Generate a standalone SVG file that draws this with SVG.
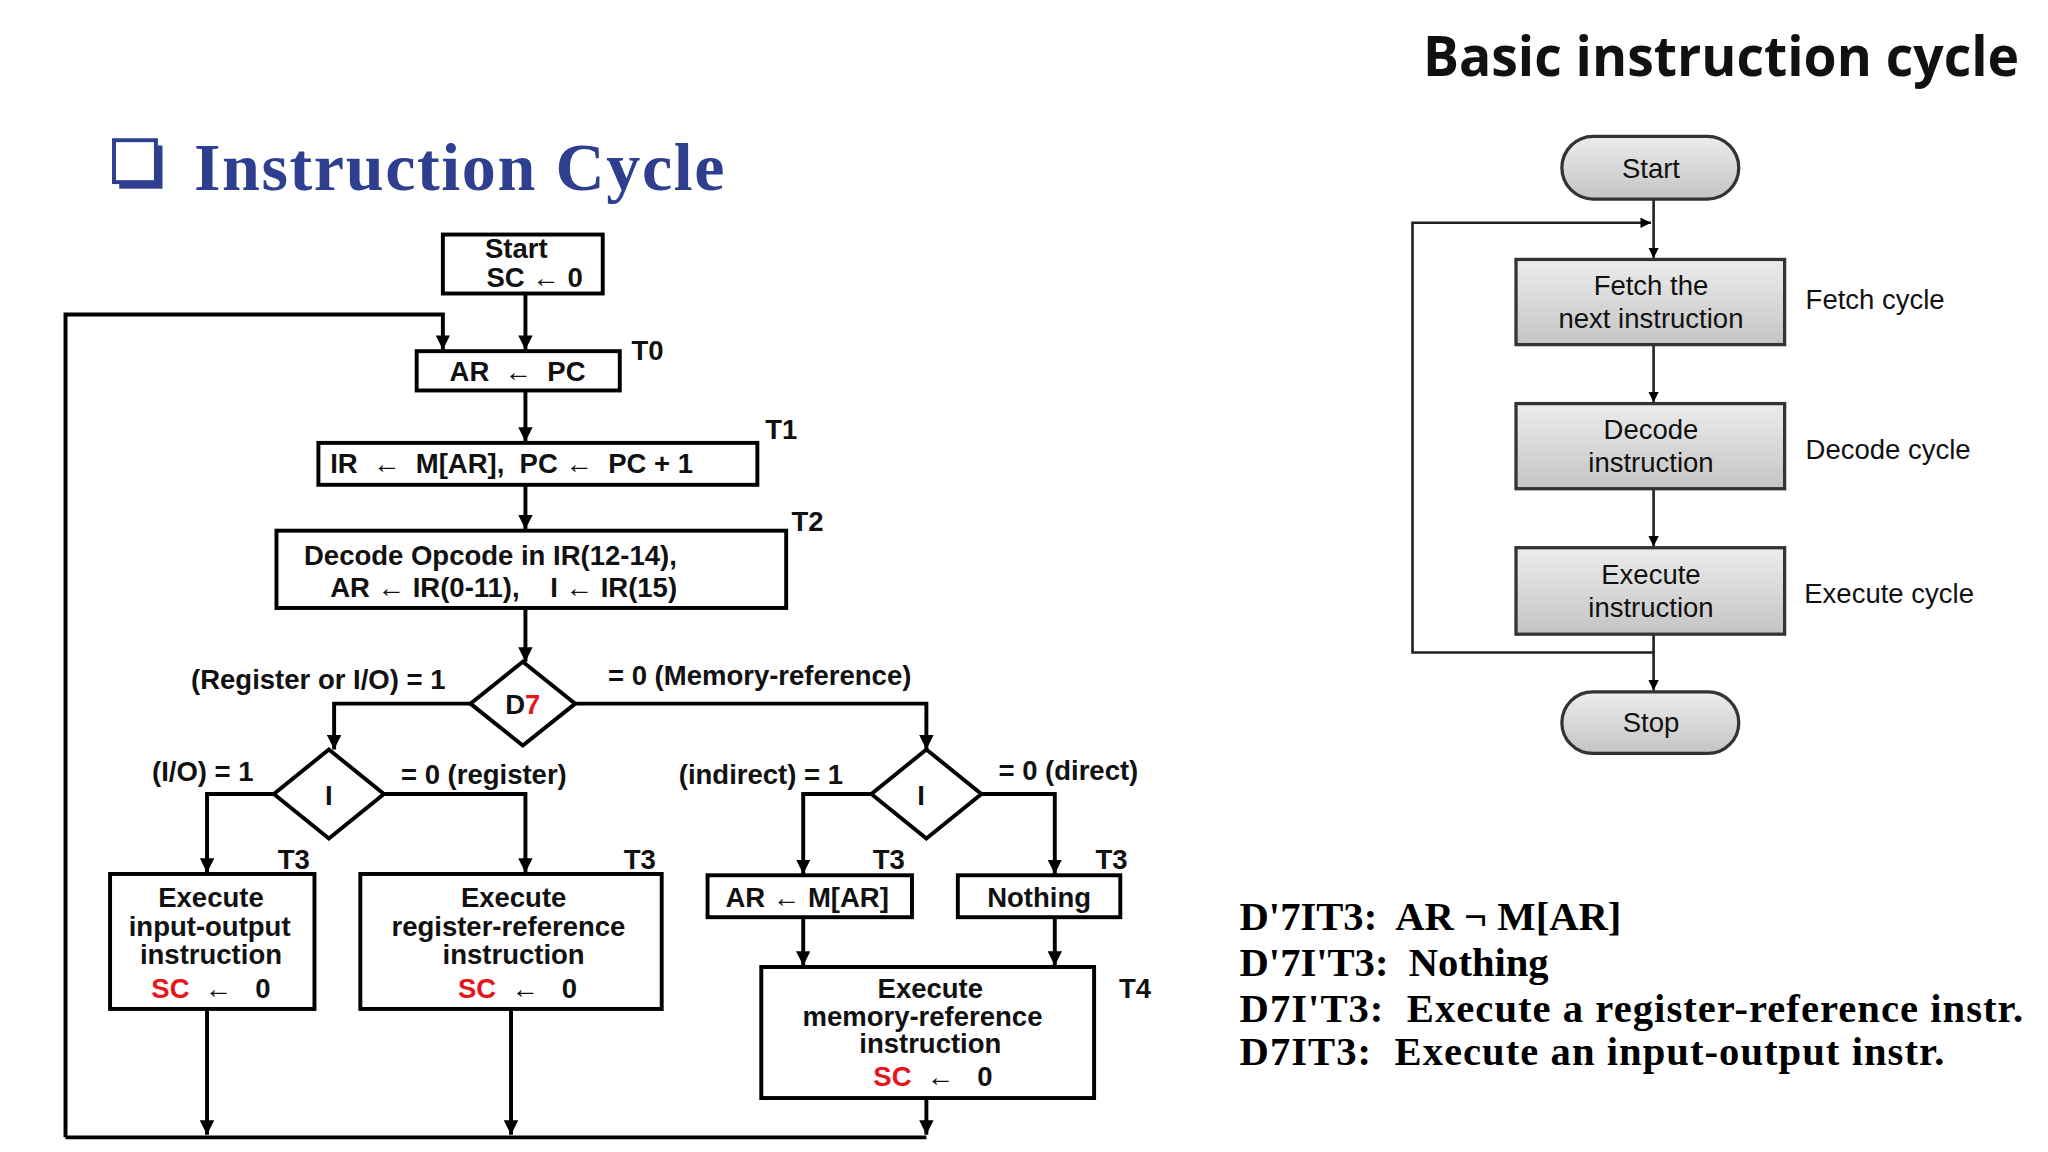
<svg xmlns="http://www.w3.org/2000/svg" width="2048" height="1152" viewBox="0 0 2048 1152">
<defs>
<marker id="ah" viewBox="0 0 10 10" markerWidth="11" markerHeight="11" refX="10" refY="5" orient="auto" markerUnits="userSpaceOnUse"><path d="M0,0 L10,5 L0,10 z" fill="#000"/></marker>
<marker id="ah2" viewBox="0 0 10 10" markerWidth="8" markerHeight="8" refX="10" refY="5" orient="auto" markerUnits="userSpaceOnUse"><path d="M0,0 L10,5 L0,10 z" fill="#000"/></marker>
<linearGradient id="g" x1="0" y1="0" x2="0" y2="1"><stop offset="0" stop-color="#ececec"/><stop offset="1" stop-color="#c4c4c4"/></linearGradient>
<style>
text{white-space:pre}
.b{fill:#fff;stroke:#000;stroke-width:3}
.c{fill:none;stroke:#000;stroke-width:3}
.c2{fill:none;stroke:#222;stroke-width:2}
.t{font-family:"Liberation Sans",Arial,sans-serif;font-weight:bold;font-size:21px;fill:#111}
.m{text-anchor:middle}
.r{fill:#e8141c}
.g{fill:url(#g);stroke:#333;stroke-width:2.5}
.s{font-family:"Liberation Sans",Arial,sans-serif;font-size:21px;fill:#111}
.f{font-family:"Liberation Serif","Times New Roman",serif;font-weight:bold;font-size:31px;fill:#000}
</style>
</defs>
<rect width="2048" height="1152" fill="#fff"/>
<g transform="scale(1.3103)">
<g id="title">
<rect x="91" y="111" width="33" height="33" fill="#2E3F8F"/>
<rect x="87" y="107" width="32" height="32" fill="#fff" stroke="#2E3F8F" stroke-width="3"/>
<text x="148" y="145" font-family="Liberation Serif,serif" font-weight="bold" font-size="52" fill="#2E3F8F" textLength="405">Instruction Cycle</text>
</g>
<g id="connectors">
<path class="c" d="M401,224 V267" marker-end="url(#ah)"/>
<path class="c" d="M50,868 V240 H338 V267" marker-end="url(#ah)"/>
<path class="c" d="M401,298 V337" marker-end="url(#ah)"/>
<path class="c" d="M401,370 V404" marker-end="url(#ah)"/>
<path class="c" d="M401,464 V505" marker-end="url(#ah)"/>
<path class="c" d="M359,537 H255 V572" marker-end="url(#ah)"/>
<path class="c" d="M439,537 H707 V572" marker-end="url(#ah)"/>
<path class="c" d="M209,606 H158 V666" marker-end="url(#ah)"/>
<path class="c" d="M293,606 H401 V666" marker-end="url(#ah)"/>
<path class="c" d="M665,606 H613 V667" marker-end="url(#ah)"/>
<path class="c" d="M749,606 H805 V667" marker-end="url(#ah)"/>
<path class="c" d="M613,700 V737" marker-end="url(#ah)"/>
<path class="c" d="M805,700 V737" marker-end="url(#ah)"/>
<path class="c" d="M158,770 V866" marker-end="url(#ah)"/>
<path class="c" d="M390,770 V866" marker-end="url(#ah)"/>
<path class="c" d="M707,838 V866" marker-end="url(#ah)"/>
<path class="c" d="M50,868 H707"/>
<path class="c2" d="M1262,152 V197" marker-end="url(#ah2)"/>
<path class="c2" d="M1262,263 V307" marker-end="url(#ah2)"/>
<path class="c2" d="M1262,373 V417" marker-end="url(#ah2)"/>
<path class="c2" d="M1262,484 V527" marker-end="url(#ah2)"/>
<path class="c2" d="M1262,498 H1078 V170 H1260" marker-end="url(#ah2)"/>
</g>
<g id="start"><rect class="b" x="338" y="179" width="122" height="45"/><text class="t m" x="394" y="197" font-size="18">Start</text><text class="t m" x="408" y="219" font-size="18">SC ← 0</text></g>
<g id="t0"><rect class="b" x="318" y="268" width="155" height="30"/><text class="t m" x="395" y="291">AR  ←  PC</text><text class="t" x="482" y="275">T0</text></g>
<g id="t1"><rect class="b" x="243" y="338" width="335" height="32"/><text class="t" x="252" y="361">IR  ←  M[AR],  PC ←  PC + 1</text><text class="t" x="584" y="335">T1</text></g>
<g id="t2"><rect class="b" x="211" y="405" width="389" height="59"/><text class="t" x="232" y="431">Decode Opcode in IR(12-14),</text><text class="t" x="252" y="456">AR ← IR(0-11),    I ← IR(15)</text><text class="t" x="604" y="405">T2</text></g>
<g id="d7"><path class="b" d="M399,505 L439,537 L399,569 L359,537 z"/><text class="t m" x="399" y="545">D<tspan class="r">7</tspan></text>
<text class="t" x="340" y="526" text-anchor="end" font-weight="normal">(Register or I/O) = 1</text><text class="t" x="464" y="523">= 0 (Memory-reference)</text></g>
<g id="i1"><path class="b" d="M251,572 L293,606 L251,640 L209,606 z"/><text class="t m" x="251" y="614">I</text><text class="t" x="116" y="596">(I/O) = 1</text><text class="t" x="306" y="598">= 0 (register)</text></g>
<g id="i2"><path class="b" d="M707,572 L749,606 L707,640 L665,606 z"/><text class="t m" x="703" y="614">I</text><text class="t" x="518" y="598">(indirect) = 1</text><text class="t" x="762" y="595">= 0 (direct)</text></g>
<g id="io"><rect class="b" x="84" y="667" width="156" height="103"/><text class="t m" x="161" y="692">Execute</text><text class="t m" x="160" y="714">input-output</text><text class="t m" x="161" y="736">instruction</text><text class="t m" x="161" y="762"><tspan class="r">SC</tspan>  ←   0</text><text class="t" x="212" y="663">T3</text></g>
<g id="rr"><rect class="b" x="275" y="667" width="230" height="103"/><text class="t m" x="392" y="692">Execute</text><text class="t m" x="388" y="714">register-reference</text><text class="t m" x="392" y="736">instruction</text><text class="t m" x="395" y="762"><tspan class="r">SC</tspan>  ←   0</text><text class="t" x="476" y="663">T3</text></g>
<g id="ind"><rect class="b" x="540" y="668" width="156" height="32"/><text class="t m" x="616" y="692">AR ← M[AR]</text><text class="t" x="666" y="663">T3</text></g>
<g id="dir"><rect class="b" x="731" y="668" width="124" height="32"/><text class="t m" x="793" y="692">Nothing</text><text class="t" x="836" y="663">T3</text></g>
<g id="mr"><rect class="b" x="581" y="738" width="254" height="100"/><text class="t m" x="710" y="762">Execute</text><text class="t m" x="704" y="783">memory-reference</text><text class="t m" x="710" y="804">instruction</text><text class="t m" x="712" y="829"><tspan class="r">SC</tspan>  ←   0</text><text class="t" x="854" y="762">T4</text></g>
<g id="rtitle"><text x="1086" y="58" font-family="Open Sans,Liberation Sans,sans-serif" font-weight="bold" font-size="43" fill="#111" textLength="455" lengthAdjust="spacingAndGlyphs">Basic instruction cycle</text></g>
<g id="rstart"><rect class="g" x="1192" y="104" width="135" height="48" rx="24"/><text class="s m" x="1260" y="136">Start</text></g>
<g id="fetch"><rect class="g" x="1157" y="198" width="205" height="65"/><text class="s m" x="1260" y="225">Fetch the</text><text class="s m" x="1260" y="250">next instruction</text><text class="s" x="1378" y="236">Fetch cycle</text></g>
<g id="decode"><rect class="g" x="1157" y="308" width="205" height="65"/><text class="s m" x="1260" y="335">Decode</text><text class="s m" x="1260" y="360">instruction</text><text class="s" x="1378" y="350">Decode cycle</text></g>
<g id="exec"><rect class="g" x="1157" y="418" width="205" height="66"/><text class="s m" x="1260" y="446">Execute</text><text class="s m" x="1260" y="471">instruction</text><text class="s" x="1377" y="460">Execute cycle</text></g>
<g id="rstop"><rect class="g" x="1192" y="528" width="135" height="47" rx="23.5"/><text class="s m" x="1260" y="559">Stop</text></g>
<g id="eq">
<text class="f" x="946" y="710">D'7IT3:  AR ¬ M[AR]</text>
<text class="f" x="946" y="745">D'7I'T3:  Nothing</text>
<text class="f" x="946" y="780" textLength="598">D7I'T3:  Execute a register-reference instr.</text>
<text class="f" x="946" y="813" textLength="538">D7IT3:  Execute an input-output instr.</text>
</g>
</g>
</svg>
